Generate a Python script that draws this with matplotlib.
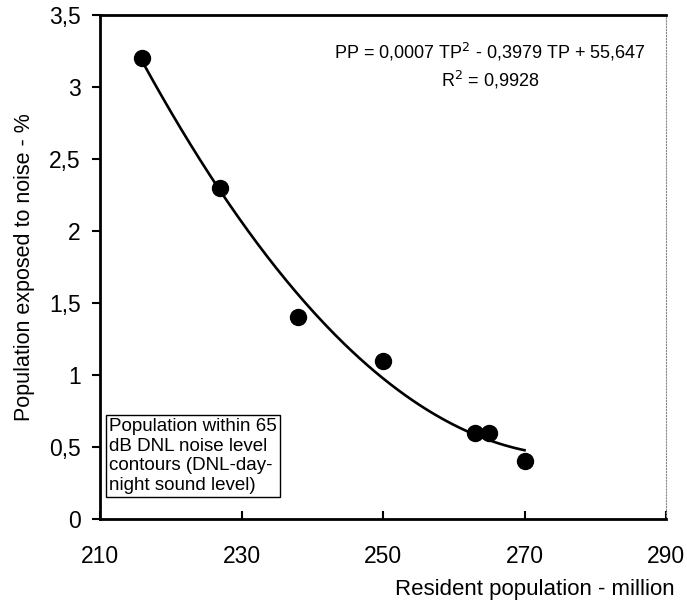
import numpy as np
import matplotlib
matplotlib.use('Agg')
import matplotlib.pyplot as plt
from matplotlib.ticker import FuncFormatter

plt.rcParams['font.family'] = ['Liberation Sans', 'DejaVu Sans']

# resident population (million) vs population exposed to noise (%)
resident = [216, 227, 238, 250, 263, 265, 270]
exposed = [3.2, 2.3, 1.4, 1.1, 0.6, 0.6, 0.4]

xticks = [210, 230, 250, 270, 290]
yticks = [0, 0.5, 1, 1.5, 2, 2.5, 3, 3.5]

fig = plt.figure(figsize=(6.87, 6.06), dpi=100)
ax = fig.add_axes([100/687, 1-519/606, 566/687, 504/606])

# quadratic trend line through the points
coef = np.polyfit(resident, exposed, 2)
xs = np.linspace(min(resident), max(resident), 200)
ax.plot(xs, np.polyval(coef, xs), color='black', lw=1.9, zorder=2)
ax.plot(resident, exposed, 'o', color='black', ms=11.5, zorder=3)

ax.set_xlim(210, 290)
ax.set_ylim(0, 3.5)
ax.set_xticks(xticks)
ax.set_yticks(yticks)

fmt = FuncFormatter(lambda v, p: ('%g' % v).replace('.', ','))
ax.xaxis.set_major_formatter(fmt)
ax.yaxis.set_major_formatter(fmt)

ax.tick_params(axis='x', direction='in', length=6, width=1.5, pad=19, labelsize=16.5)
ax.tick_params(axis='y', direction='out', length=6, width=1.5, pad=8, labelsize=16.5)

for s in ['left', 'bottom', 'top']:
    ax.spines[s].set_linewidth(2)
ax.spines['right'].set_linewidth(0.8)
ax.spines['right'].set_linestyle(':')
ax.spines['right'].set_color('#888888')

ax.set_ylabel('Population exposed to noise - %', fontsize=15.5, labelpad=10)
ax.text(1.015, -0.14, 'Resident population - million', transform=ax.transAxes,
        ha='right', va='center', fontsize=16)

ax.text(0.689, 0.899, 'PP = 0,0007 TP$^2$ - 0,3979 TP + 55,647\nR$^2$ = 0,9928',
        transform=ax.transAxes, ha='center', va='center', fontsize=13,
        linespacing=1.35)

ax.text(0.016, 0.125, 'Population within 65\ndB DNL noise level\ncontours (DNL-day-\nnight sound level)',
        transform=ax.transAxes, ha='left', va='center', fontsize=13.5,
        linespacing=1.2,
        bbox=dict(boxstyle='square,pad=0.15', fc='white', ec='black', lw=1))

fig.savefig('out.png', dpi=100)
